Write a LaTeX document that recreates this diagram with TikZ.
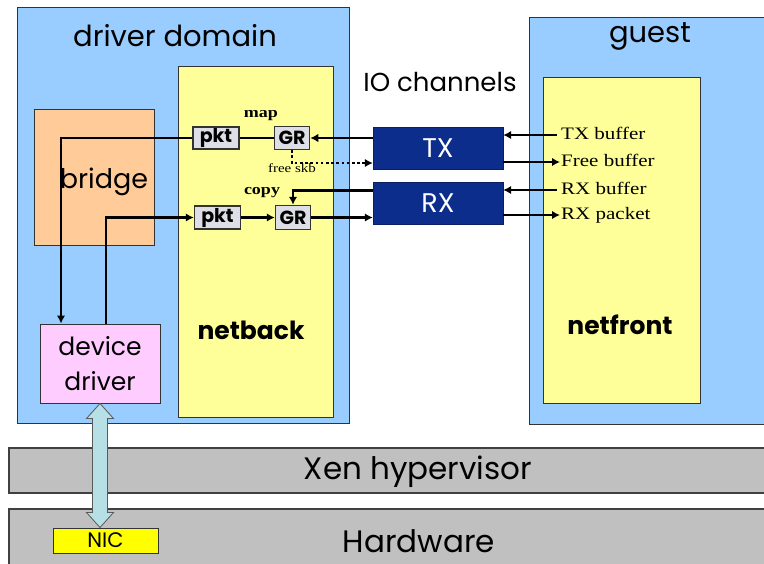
\documentclass[tikz,border=0pt]{standalone}
\usepackage{fontspec}
\setmainfont{Poppins}
\newfontfamily\serifl[FakeStretch=1.2]{Liberation Serif}
\usetikzlibrary{arrows.meta,calc}

\definecolor{domblue}{RGB}{153,204,255}
\definecolor{paleyel}{RGB}{255,255,153}
\definecolor{peach}{RGB}{255,204,153}
\definecolor{pinkish}{RGB}{255,204,255}
\definecolor{hvgray}{RGB}{192,192,192}
\definecolor{chanblue}{RGB}{12,45,140}
\definecolor{tokgray}{RGB}{222,222,230}
\definecolor{nicyel}{RGB}{255,255,0}
\definecolor{busblue}{RGB}{182,224,230}

\begin{document}
\begin{tikzpicture}[x=1pt,y=-1pt,
  box/.style={draw=black!80, line width=1pt, inner sep=0pt},
  bar/.style={draw=black!75, line width=1.8pt, fill=hvgray, inner sep=0pt},
  tok/.style={draw=black!80, line width=1.5pt, fill=tokgray, inner sep=0pt,
    font=\fontsize{19}{19}\selectfont\bfseries},
  chan/.style={fill=chanblue, draw=chanblue!70!black, inner sep=0pt, text=white,
    minimum width=130, minimum height=42, font=\fontsize{27}{27}\selectfont},
  title/.style={inner sep=0pt, font=\fontsize{#1}{#1}\selectfont},
  heavy/.style={inner sep=0pt, font=\fontsize{#1}{#1}\selectfont\bfseries},
  note/.style={inner sep=0pt, font=\serifl\fontsize{#1}{#1}\selectfont},
  lbl/.style={inner sep=0pt, anchor=west, text height=12, text depth=3,
    font=\serifl\fontsize{17.5}{17.5}\selectfont},
  wire/.style={line width=2.9pt, black},
  arr/.style={wire, -{Latex[length=8pt,width=8.5pt]}},
]
\useasboundingbox (0,0) rectangle (764,563);
\fill[white] (0,0) rectangle (764,563);
\begin{scope}
\clip (0,0) rectangle (764,563);

% hypervisor and hardware layers
\node[bar, minimum width=791, minimum height=45] (xen) at (404.5,470.5) {};
\node[title=31] (xenl) at (418,472) {Xen hypervisor};
\node[bar, minimum width=791, minimum height=91] (hw) at (404.5,554.5) {};
\node[title=31] (hwl) at (419,541) {Hardware};
\node[box, fill=nicyel, minimum width=105, minimum height=25, font=\fontsize{21}{21}\selectfont] (nic) at (105.5,540.5) {NIC};

% driver domain
\node[box, fill=domblue, minimum width=332, minimum height=416] (dd) at (183,215) {};
\node[title=29] (ddl) at (175,36) {driver domain};
\node[box, fill=paleyel, minimum width=155, minimum height=351] (nb) at (255.5,241.5) {};
\node[heavy=25] (nbl) at (251,330) {netback};
\node[box, fill=peach, minimum width=120, minimum height=136] (br) at (94,177) {};
\node[title=27] (brl) at (104,182) {bridge};
\node[box, fill=pinkish, minimum width=120, minimum height=79, align=center,
  font=\fontsize{25}{35}\selectfont] (dev) at (100,363.5) {device\\driver};

% guest domain
\node[box, fill=domblue, minimum width=260, minimum height=407] (gu) at (659,220.5) {};
\node[title=29] (gul) at (650,36) {guest};
\node[box, fill=paleyel, minimum width=157, minimum height=326] (nf) at (621.5,240) {};
\node[heavy=25] (nfl) at (620,325) {netfront};

% IO channels
\node[title=26] (iol) at (440,82) {IO channels};
\node[chan] (tx) at (438,148) {TX};
\node[chan] (rx) at (438,203.5) {RX};

% packet and grant tokens in netback
\node[tok, minimum width=46, minimum height=22] (pkt1) at (216,138) {pkt};
\node[tok, minimum width=35, minimum height=23] (gr1) at (292,138) {GR};
\node[tok, minimum width=46, minimum height=23] (pkt2) at (217.5,217.5) {pkt};
\node[tok, minimum width=35, minimum height=24] (gr2) at (293,217.5) {GR};
\node[note=15] (mapl) at (261,116) {\bfseries map};
\node[note=12.5] (skbl) at (292,168) {free skb};
\node[note=15] (copyl) at (262,193) {\bfseries copy};

% netfront buffer labels
\node[lbl] (tb) at (561,135) {TX buffer};
\node[lbl] (fb) at (561,162) {Free buffer};
\node[lbl] (rb) at (561,190) {RX buffer};
\node[lbl] (rp) at (561,215) {RX packet};

% transmit path
\draw[arr] (gr1.east -| tx.west) -- (gr1.east);
\draw[wire] (gr1.west) -- (pkt1.east);
\coordinate (tl) at (61,138);
\draw[arr] (pkt1.west) -- (tl) -- (tl |- dev.north);
\draw[arr, dash pattern=on 2.6pt off 2.6pt] (gr1.south) |- ($(tx.west)+(0,15)$);

% receive path
\coordinate (bl) at (106,217.5);
\draw[arr] (bl |- dev.north) -- (bl) -- (pkt2.west);
\draw[arr] (pkt2.east) -- (gr2.west);
\draw[arr] ($(rx.west)+(0,-13)$) -| (gr2.north);
\draw[arr] (gr2.east) -- (gr2.east -| rx.west);

% netfront side of the rings
\draw[arr] ($(tb.west)+(-4,0)$) -- (tb.west -| tx.east);
\draw[arr] (fb.west -| tx.east) -- ($(fb.west)+(-1,0)$);
\draw[arr] ($(rb.west)+(-4,0)$) -- (rb.west -| rx.east);
\draw[arr] (rp.west -| rx.east) -- ($(rp.west)+(-1,0)$);

% device driver <-> NIC bus
\coordinate (ua) at (dev.south);
\coordinate (ub) at (dev.south |- nic.north);
\draw[draw=gray!70!black, line width=0.8pt, fill=busblue]
  (ua) -- ($(ua)+(13.5,15)$) -- ($(ua)+(7.5,15)$) -- ($(ub)+(7.5,-15)$)
  -- ($(ub)+(13.5,-15)$) -- (ub) -- ($(ub)+(-13.5,-15)$) -- ($(ub)+(-7.5,-15)$)
  -- ($(ua)+(-7.5,15)$) -- ($(ua)+(-13.5,15)$) -- cycle;
\end{scope}
\end{tikzpicture}
\end{document}
